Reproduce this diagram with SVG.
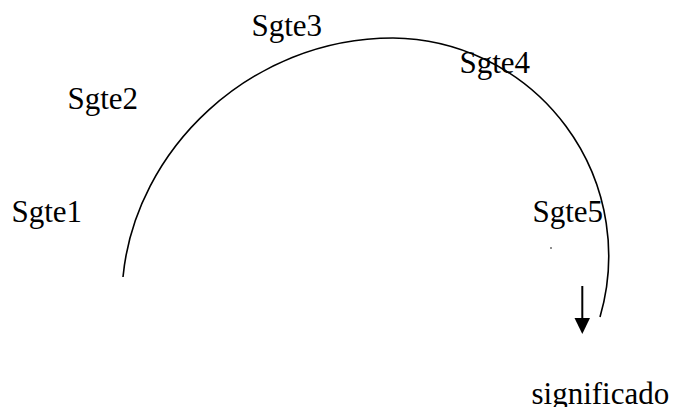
<svg xmlns="http://www.w3.org/2000/svg" width="674" height="407" viewBox="0 0 674 407">
<style>
.ln{fill:none;stroke:#000;stroke-width:1.6}
</style>
<rect width="674" height="407" fill="#fff"/>
<g id="connectors">
<path id="arc" class="ln" d="M123 277 C135 150 250 38 393 38 A218 218 0 0 1 600 317"/>
<g id="arrow">
<line x1="582.3" y1="286" x2="582.3" y2="320" stroke="#000" stroke-width="2"/>
<polygon points="574.5,318 590,318 582.3,334" fill="#000"/>
</g>
</g>
<g font-family="Liberation Serif, Times New Roman, serif" font-size="31" fill="#000">
<g id="n1"><text x="11.5" y="222">Sgte1</text></g>
<g id="n2"><text x="67.5" y="109">Sgte2</text></g>
<g id="n3"><text x="251.5" y="36">Sgte3</text></g>
<g id="n4"><text x="459.5" y="73">Sgte4</text></g>
<g id="n5"><text x="532.5" y="222">Sgte5</text><circle cx="551" cy="248" r="0.8" fill="#000"/></g>
<g id="n6"><text x="531.5" y="404">significado</text></g>
</g>
</svg>
